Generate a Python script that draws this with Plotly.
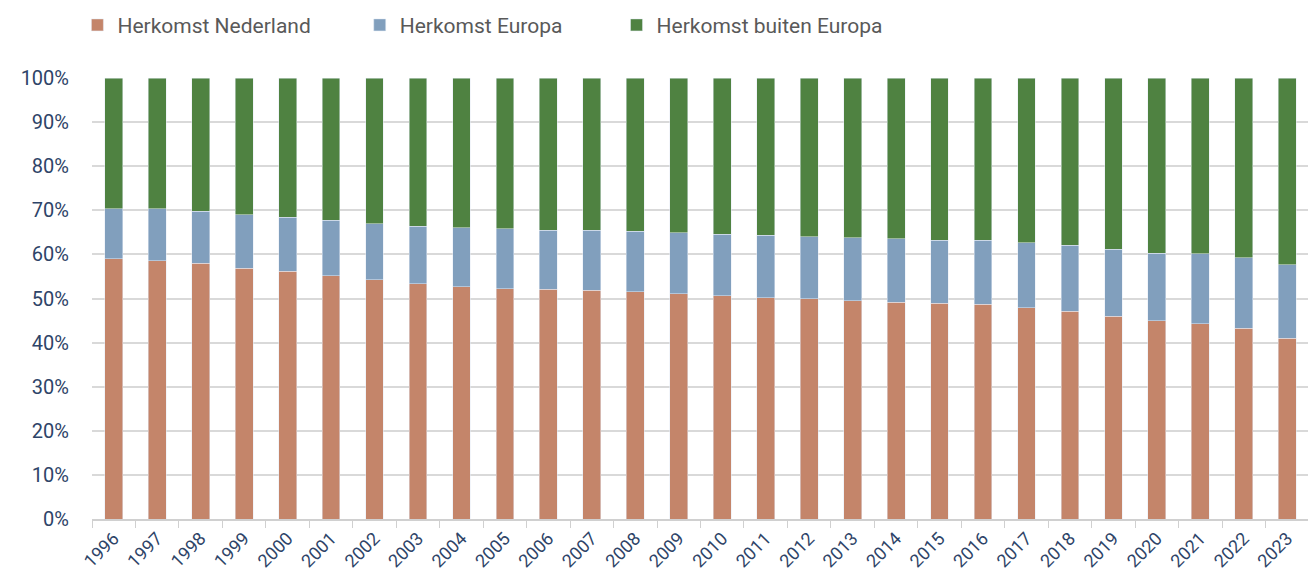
import plotly.graph_objects as go

years = [str(y) for y in range(1996, 2024)]

# aandeel in % per herkomstgroep
nederland = [59.0, 58.6, 58.0, 56.9, 56.2, 55.2, 54.2, 53.4, 52.7, 52.2, 52.1, 51.9, 51.5, 51.1,
             50.6, 50.2, 49.9, 49.5, 49.2, 48.9, 48.7, 47.9, 47.1, 46.0, 44.9, 44.3, 43.3, 41.0]
europa = [11.4, 11.8, 11.8, 12.1, 12.2, 12.6, 12.8, 13.0, 13.4, 13.6, 13.4, 13.6, 13.7, 13.8,
          14.0, 14.1, 14.1, 14.3, 14.3, 14.3, 14.5, 14.7, 15.0, 15.2, 15.4, 15.8, 15.9, 16.7]
buiten_europa = [29.6, 29.6, 30.2, 31.0, 31.6, 32.2, 33.0, 33.6, 33.9, 34.2, 34.5, 34.5, 34.8, 35.1,
                 35.4, 35.7, 36.0, 36.2, 36.5, 36.8, 36.8, 37.4, 37.9, 38.8, 39.7, 39.9, 40.8, 42.3]

y_ticks = [0, 10, 20, 30, 40, 50, 60, 70, 80, 90, 100]
y_ticktext = [f"{v}%" for v in y_ticks]

font_family = "Roboto, Liberation Sans, sans-serif"
navy = "#2E4468"

fig = go.Figure()
fig.add_trace(go.Bar(x=years, y=nederland, name="Herkomst Nederland",
                     marker_color="#C4856A", legend="legend"))
fig.add_trace(go.Bar(x=years, y=europa, name="Herkomst Europa",
                     marker_color="#819FBD", legend="legend2"))
fig.add_trace(go.Bar(x=years, y=buiten_europa, name="Herkomst buiten Europa",
                     marker_color="#4F8241", legend="legend3"))

leg = dict(orientation="h", yref="container", yanchor="middle", y=0.97, xanchor="left",
           font=dict(family=font_family, size=21, color="#595959"),
           bgcolor="rgba(0,0,0,0)", itemwidth=30, tracegroupgap=0)

# page body has an 8px margin, so the figure is 8px smaller than the window
fig.update_layout(
    barmode="stack",
    bargap=0.59,
    width=1308, height=575,
    margin=dict(l=84, r=7, t=70, b=64, autoexpand=False),
    paper_bgcolor="white", plot_bgcolor="white",
    font=dict(family=font_family, color=navy),
    showlegend=True,
    legend=dict(leg, x=-0.012),
    legend2=dict(leg, x=0.22),
    legend3=dict(leg, x=0.431),
    xaxis=dict(type="category", tickangle=-45, ticks="outside", tickson="boundaries",
               ticklen=7, tickcolor="#D0D0D0", showline=True, linecolor="#D0D0D0", linewidth=2,
               tickfont=dict(size=18, color=navy), showgrid=False, automargin=False),
    yaxis=dict(range=[0, 100], tickvals=y_ticks, ticktext=y_ticktext,
               showgrid=True, gridcolor="#D9D9D9", gridwidth=2, zeroline=False,
               tickfont=dict(size=20, color=navy), ticks="", ticklabelstandoff=22,
               automargin=False),
)

fig.write_html("out.html")
